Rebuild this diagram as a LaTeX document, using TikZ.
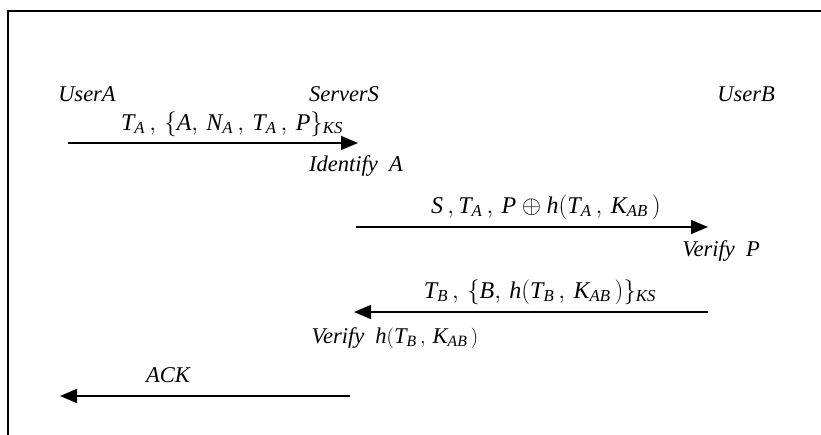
\documentclass[tikz,border=0pt]{standalone}
\usepackage{mathspec}
\setmainfont{Liberation Serif}
\setmathsfont(Latin)[Uppercase=Italic,Lowercase=Italic]{Liberation Serif}
\usetikzlibrary{arrows.meta}
\tikzset{
  lbl/.style={inner sep=0pt, font=\fontsize{22.5}{26}\selectfont\itshape},
  mlbl/.style={inner sep=0pt, font=\fontsize{24}{28}\selectfont\itshape},
  msg/.style={line width=1.6pt, -{Triangle[length=17pt,width=14pt]}},
  frame/.style={line width=2.2pt, line cap=rect}
}
\newcommand{\cm}{\,,\,}
\begin{document}
\begin{tikzpicture}[x=1pt,y=-1pt]
\useasboundingbox (0,0) rectangle (821,434);
\draw[frame] (8,440) -- (8,11) -- (825,11);
% actors
\node[lbl] (ua) at (87,94) {UserA};
\node[lbl] (ss) at (344,94) {ServerS};
\node[lbl] (ub) at (746,94) {UserB};
% message 1
\coordinate (m1s) at (68,143);
\coordinate (m1e) at (358,143);
\draw[msg] (m1s) -- (m1e);
\node[mlbl] (l1) at (232,124) {$T_A\cm\{A,\,N_A\cm T_A\cm P\}_{KS}$};
\node[lbl] (ida) at (356,166) {Identify\ \ A};
% message 2
\coordinate (m2s) at (356,227);
\coordinate (m2e) at (708,227);
\draw[msg] (m2s) -- (m2e);
\node[mlbl] (l2) at (546,207) {$S\,,T_A\cm P \oplus h(T_A\cm K_{AB}\,)$};
\node[lbl] (vp) at (721,251) {Verify\ \ $P$};
% message 3
\coordinate (m3s) at (708,312);
\coordinate (m3e) at (354,312);
\draw[msg] (m3s) -- (m3e);
\node[mlbl] (l3) at (540,292) {$T_B\cm\{B,\,h(T_B\cm K_{AB}\,)\}_{KS}$};
\node[lbl] (vh) at (395,338) {Verify\ \ $h(T_B\cm K_{AB}\,)$};
% message 4
\node[lbl] (ack) at (168,375) {ACK};
\coordinate (m4s) at (350,396);
\coordinate (m4e) at (60,396);
\draw[msg] (m4s) -- (m4e);
\end{tikzpicture}
\end{document}
